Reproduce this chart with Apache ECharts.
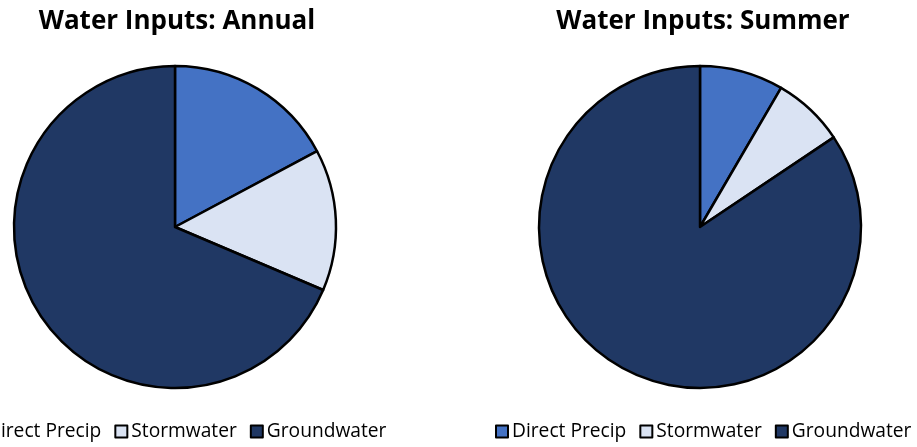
<!DOCTYPE html>
<html>
<head>
<meta charset="utf-8">
<script src="https://cdn.jsdelivr.net/npm/echarts@6/dist/echarts.min.js"></script>
<style>
  html, body { margin: 0; padding: 0; background: #fff; }
  #chart { width: 917px; height: 447px; }
</style>
</head>
<body>
<div id="chart"></div>
<script>
// Categories and shares (percent)
const categories = ['Direct Precip', 'Stormwater', 'Groundwater'];
const annualValues = [17.2, 14.2, 68.6];
const summerValues = [8.4, 7.2, 84.4];
const colors = ['#4472C4', '#DAE3F3', '#203864'];

const FONT = 'Open Sans';

function pieData(values) {
    return categories.map((name, i) => ({
        name: name,
        value: values[i],
        itemStyle: { color: colors[i] }
    }));
}

function legendAt(left) {
    return {
        left: left,
        top: 422,
        width: 460,
        padding: 0,
        orient: 'horizontal',
        itemWidth: 12,
        itemHeight: 12,
        itemGap: 13,
        icon: 'rect',
        selectedMode: false,
        itemStyle: { borderColor: '#000', borderWidth: 2 },
        textStyle: { fontFamily: FONT, fontSize: 19.2, color: '#000', padding: [0, 0, 0, -1] },
        data: categories
    };
}

const chart = echarts.init(document.getElementById('chart'), null, { renderer: 'canvas' });

const option = {
    backgroundColor: '#ffffff',
    animation: false,
    title: [
        {
            text: 'Water Inputs: Annual',
            left: 172, top: 4, textAlign: 'center',
            textStyle: { fontFamily: FONT, fontSize: 26, fontWeight: 'bold', color: '#000' }
        },
        {
            text: 'Water Inputs: Summer',
            left: 698, top: 4, textAlign: 'center',
            textStyle: { fontFamily: FONT, fontSize: 26, fontWeight: 'bold', color: '#000' }
        }
    ],
    legend: [legendAt(-30), legendAt(495)],
    series: [
        {
            name: 'Annual',
            type: 'pie',
            center: [175, 227],
            radius: 161,
            startAngle: 90,
            clockwise: true,
            label: { show: false },
            labelLine: { show: false },
            emphasis: { disabled: true },
            itemStyle: { borderColor: '#000', borderWidth: 2.5 },
            data: pieData(annualValues)
        },
        {
            name: 'Summer',
            type: 'pie',
            center: [700, 227],
            radius: 161,
            startAngle: 90,
            clockwise: true,
            label: { show: false },
            labelLine: { show: false },
            emphasis: { disabled: true },
            itemStyle: { borderColor: '#000', borderWidth: 2.5 },
            data: pieData(summerValues)
        }
    ]
};

chart.setOption(option);
</script>
</body>
</html>
